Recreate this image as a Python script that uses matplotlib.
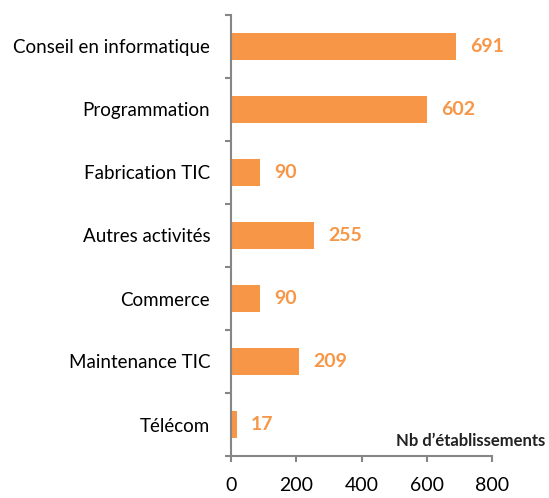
import matplotlib
matplotlib.use("Agg")
import matplotlib.pyplot as plt

categories = ["Conseil en informatique", "Programmation", "Fabrication TIC",
              "Autres activités", "Commerce", "Maintenance TIC", "Télécom"]
values = [691, 602, 90, 255, 90, 209, 17]
xticks = [0, 200, 400, 600, 800]

plt.rcParams['font.family'] = ['Lato', 'DejaVu Sans']
color = '#F79646'
grey = '#868686'

fig = plt.figure(figsize=(5.49, 4.98), dpi=100)
ax = fig.add_axes([231/549, 1-456/498, (492-231)/549, (456-15)/498])

n = len(categories)
ypos = list(range(n))
ax.barh(ypos, values, height=0.44, color=color)
ax.set_ylim(n - 0.5, -0.5)
ax.set_xlim(0, 800)
ax.set_xticks(xticks)
ax.set_xticklabels([str(t) for t in xticks], fontsize=14)
ax.set_yticks(ypos)
ax.set_yticklabels(categories, fontsize=13.5)
ax.set_yticks([i - 0.5 for i in range(n + 1)], minor=True)
ax.tick_params(axis='y', which='major', length=0, pad=15)
ax.tick_params(axis='y', which='minor', length=4, color=grey, width=1.5)
ax.tick_params(axis='x', length=4, color=grey, width=1.5, pad=11, direction='out')

for s in ['top', 'right']:
    ax.spines[s].set_visible(False)
for s in ['left', 'bottom']:
    ax.spines[s].set_color(grey)
    ax.spines[s].set_linewidth(1.5)

for y, v in zip(ypos, values):
    ax.text(v + 43, y, str(v), va='center', ha='left', color=color,
            fontsize=14, fontweight='bold')

fig.text(545/549, 1-441/498, "Nb d’établissements", ha='right', va='center',
         fontsize=12, fontweight='bold', color='#222222')

fig.savefig("out.png", dpi=100)
